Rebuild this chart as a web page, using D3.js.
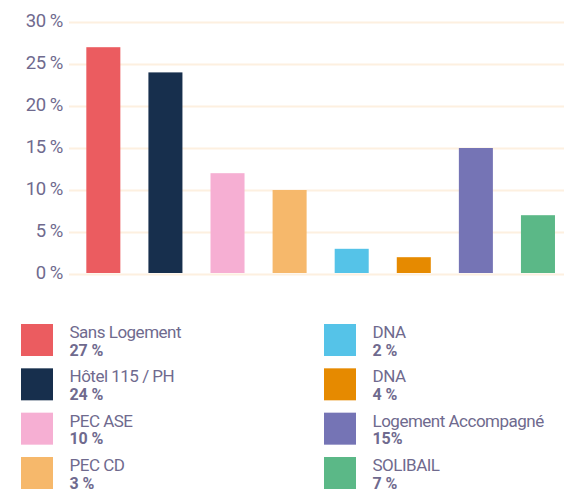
<!DOCTYPE html>
<html>
<head>
<meta charset="utf-8">
<script src="https://cdn.jsdelivr.net/npm/d3@7"></script>
<style>
  html, body { margin: 0; padding: 0; background: #ffffff; }
  svg { display: block; }
  text { font-family: "Roboto", "Liberation Sans", sans-serif; }
</style>
</head>
<body>
<svg id="chart" width="564" height="494"></svg>
<script>
// ---- data ----
const categories = ["Sans Logement", "Hôtel 115 / PH", "PEC ASE", "PEC CD", "DNA", "DNA (2)", "Logement Accompagné", "SOLIBAIL"];
const values = [27, 24, 12, 10, 3, 2, 15, 7];
const colors = ["#eb5c60", "#172f4d", "#f6afd3", "#f6b86b", "#55c3e8", "#e68a00", "#7574b5", "#5bb887"];
const legendLabels = ["Sans Logement", "Hôtel 115 / PH", "PEC ASE", "PEC CD", "DNA", "DNA", "Logement Accompagné", "SOLIBAIL"];
const legendValues = ["27 %", "24 %", "10 %", "3 %", "2 %", "4 %", "15%", "7 %"];
const yTicks = [0, 5, 10, 15, 20, 25, 30];

const textColor = "#6f6a8e";
const gridColor = "#fdf0e0";

const svg = d3.select("#chart");

const x = d3.scaleBand()
  .domain(categories)
  .range([69, 572.3])
  .paddingInner(0.452)
  .paddingOuter(0.279);

const y = d3.scaleLinear().domain([0, 30]).range([274, 22]);

// grid lines
const yAxis = d3.axisLeft(y)
  .tickValues(yTicks)
  .tickSize(-(564 - 69))
  .tickPadding(6)
  .tickFormat(d => d + " %");

const gAxis = svg.append("g")
  .attr("transform", "translate(69,0)")
  .call(yAxis);
gAxis.select(".domain").remove();
gAxis.selectAll(".tick line").attr("stroke", gridColor).attr("stroke-width", 2);
gAxis.selectAll(".tick text")
  .attr("x", -6)
  .attr("dy", "0.22em")
  .attr("fill", textColor)
  .attr("font-size", 18.5)
  .attr("letter-spacing", "-0.4")
  .attr("font-family", "Roboto, sans-serif");

// bars
svg.append("g").selectAll("rect")
  .data(values)
  .join("rect")
  .attr("x", (d, i) => x(categories[i]))
  .attr("width", x.bandwidth())
  .attr("y", d => y(d))
  .attr("height", d => y(0) - 1 - y(d))
  .attr("fill", (d, i) => colors[i]);

// legend
const legend = svg.append("g");
const rowY = d3.scaleLinear().domain([0, 3]).range([324, 457]);
legendLabels.forEach((lab, i) => {
  const col = i < 4 ? 0 : 1;
  const row = i % 4;
  const gx = col === 0 ? 21 : 324;
  const gy = rowY(row);
  const g = legend.append("g").attr("transform", `translate(${gx},${gy})`);
  g.append("rect").attr("width", 32).attr("height", 32).attr("fill", colors[i]);
  g.append("text")
    .attr("x", 48.5).attr("y", 14)
    .attr("fill", textColor)
    .attr("font-size", 17)
    .attr("letter-spacing", "-0.5")
    .text(lab);
  g.append("text")
    .attr("x", 48.5).attr("y", 31.5)
    .attr("fill", textColor)
    .attr("font-size", 16)
    .attr("font-weight", "bold")
    .attr("letter-spacing", "-0.1")
    .text(legendValues[i]);
});
</script>
</body>
</html>
